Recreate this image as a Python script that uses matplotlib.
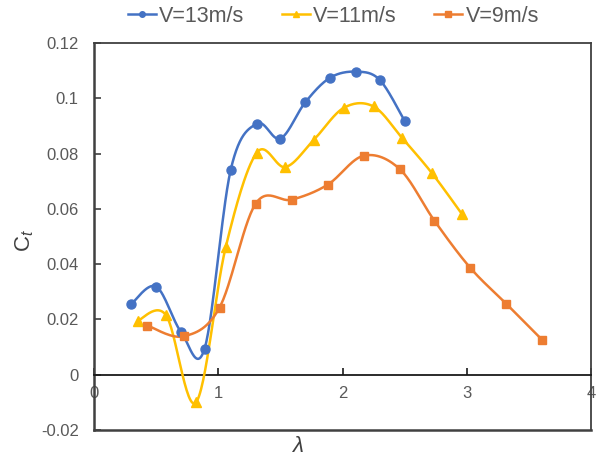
import numpy as np
import matplotlib
matplotlib.use("Agg")
import matplotlib.pyplot as plt
from matplotlib.lines import Line2D

plt.rcParams['font.family'] = ['Liberation Sans', 'DejaVu Sans']
plt.rcParams['mathtext.fontset'] = 'custom'
plt.rcParams['mathtext.rm'] = 'Liberation Sans'
plt.rcParams['mathtext.it'] = 'Liberation Sans:italic'

# Tip speed ratio (lambda) and thrust coefficient for each wind speed
lam_13 = [0.30, 0.50, 0.70, 0.89, 1.10, 1.31, 1.50, 1.70, 1.90, 2.11, 2.30, 2.50]
ct_13 = [0.0256, 0.0319, 0.0155, 0.0095, 0.0741, 0.0908, 0.0854, 0.0985, 0.1074, 0.1096, 0.1066, 0.0918]

lam_11 = [0.35, 0.58, 0.82, 1.06, 1.31, 1.54, 1.77, 2.01, 2.25, 2.48, 2.72, 2.96]
ct_11 = [0.0195, 0.0215, -0.0100, 0.0462, 0.0803, 0.0751, 0.0850, 0.0965, 0.0970, 0.0856, 0.0729, 0.0582]

lam_9 = [0.43, 0.72, 1.01, 1.30, 1.59, 1.88, 2.17, 2.46, 2.74, 3.03, 3.32, 3.61]
ct_9 = [0.0178, 0.0139, 0.0243, 0.0618, 0.0633, 0.0687, 0.0792, 0.0744, 0.0557, 0.0386, 0.0256, 0.0125]

series = [
    ("V=13m/s", lam_13, ct_13, "#4472C4", "o", 6.5),
    ("V=11m/s", lam_11, ct_11, "#FFC000", "^", 6.5),
    ("V=9m/s", lam_9, ct_9, "#ED7D31", "s", 6.0),
]

x_ticks = [0, 1, 2, 3, 4]
y_ticks = [-0.02, 0, 0.02, 0.04, 0.06, 0.08, 0.1, 0.12]
y_labels = ["-0.02", "0", "0.02", "0.04", "0.06", "0.08", "0.1", "0.12"]


def smooth(xs, ys, n=30, k=6.0):
    """Cubic Bezier smoothing through every point (Catmull-Rom tangents)."""
    p = np.column_stack([xs, ys]).astype(float)
    pts = [p[0]]
    m = len(p)
    for i in range(m - 1):
        p0 = p[i - 1] if i > 0 else p[i]
        p1 = p[i]
        p2 = p[i + 1]
        p3 = p[i + 2] if i + 2 < m else p[i + 1]
        c1 = p1 + (p2 - p0) / k
        c2 = p2 - (p3 - p1) / k
        t = np.linspace(0, 1, n)[1:, None]
        seg = ((1 - t) ** 3) * p1 + 3 * ((1 - t) ** 2) * t * c1 + 3 * (1 - t) * t ** 2 * c2 + t ** 3 * p2
        pts.extend(seg)
    pts = np.array(pts)
    return pts[:, 0], pts[:, 1]


fig = plt.figure(figsize=(6.03, 4.61), dpi=100)
ax = fig.add_axes([0.156, 0.067, 0.824, 0.840])

handles = []
for label, xs, ys, color, mk, ms in series:
    sx, sy = smooth(xs, ys)
    ax.plot(sx, sy, color=color, lw=1.8, zorder=3, clip_on=False)
    ax.plot(xs, ys, linestyle="none", marker=mk, ms=ms, color=color,
            markeredgecolor=color, zorder=4, clip_on=False)
    handles.append(Line2D([0], [0], color=color, lw=1.8, marker=mk, ms=4,
                          markeredgecolor=color, label=label))

ax.set_xlim(0, 4)
ax.set_ylim(-0.02, 0.12)

frame_color = "#404040"
for side in ["top", "right", "left"]:
    ax.spines[side].set_color(frame_color)
    ax.spines[side].set_linewidth(1.3)
ax.spines["left"].set_linewidth(1.8)
ax.spines["bottom"].set_position(("data", 0))
ax.spines["bottom"].set_color("#1a1a1a")
ax.spines["bottom"].set_linewidth(1.3)
ax.axhline(-0.02, color=frame_color, lw=1.8, clip_on=False, zorder=5)

ax.set_xticks(x_ticks)
ax.set_yticks(y_ticks)
ax.set_yticklabels(y_labels)
ax.tick_params(axis="x", direction="in", length=5, width=1.2, color="#1a1a1a",
               labelsize=12, labelcolor="#595959", pad=8)
ax.tick_params(axis="y", direction="in", length=5, width=1.2, color=frame_color,
               labelsize=12, labelcolor="#595959", pad=11)

ax.text(-0.139, 0.49, r"C$_t$", transform=ax.transAxes, fontsize=16,
        color="#404040", rotation=90, ha="center", va="center")
ax.text(0.41, -0.043, r"$\lambda$", transform=ax.transAxes, fontsize=16,
        color="#404040", ha="center", va="center")

fig.legend(handles=handles, loc="upper center", bbox_to_anchor=(0.553, 1.03),
           ncol=3, frameon=False, fontsize=15.5, labelcolor="#595959",
           handlelength=1.3, handletextpad=0.15, columnspacing=1.75)

fig.savefig("out.png", dpi=100)
